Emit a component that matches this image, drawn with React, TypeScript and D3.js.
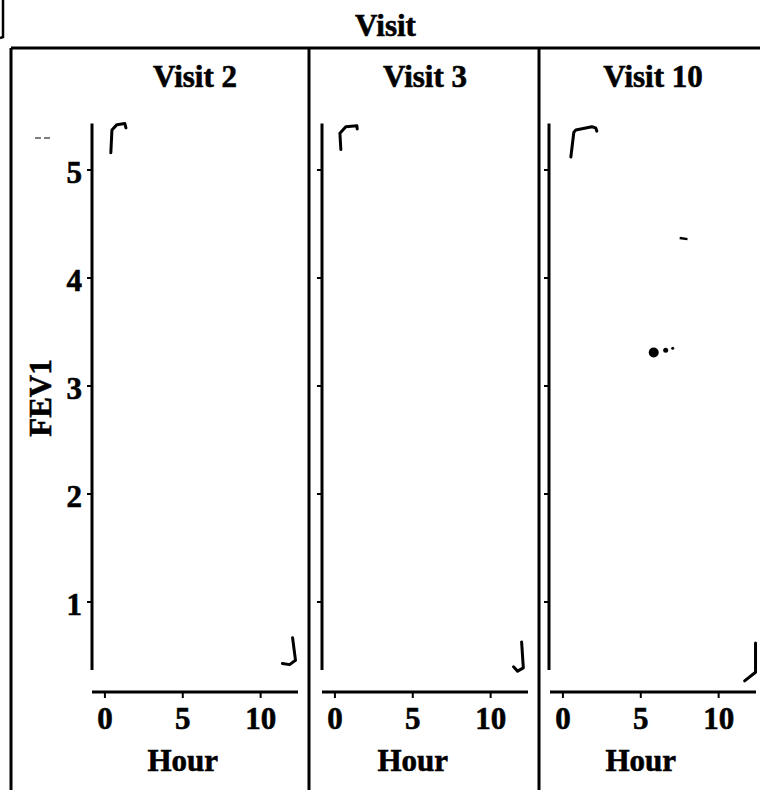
import React from 'react';
import * as d3 from 'd3';

const width = 760;
const height = 790;

// data
const visits = ['Visit 2', 'Visit 3', 'Visit 10'];
const hourTicks = [0, 5, 10];
const fevTicks = [1, 2, 3, 4, 5];
const hourExtent = [-0.83, 12.4];
const fevExtent = [0.37, 5.43];

// corner marks per visit, [hour, FEV1]
const topMarks = [
  [[0.38, 5.16], [0.45, 5.37], [0.77, 5.42], [1.28, 5.43], [1.35, 5.39]],
  [[0.38, 5.19], [0.32, 5.34], [0.7, 5.4], [1.41, 5.41], [1.43, 5.38]],
  [[0.51, 5.12], [0.7, 5.35], [0.83, 5.37], [1.86, 5.4], [2.1, 5.39], [2.18, 5.36]],
];
const bottomMarks = [
  [[12.05, 0.67], [12.24, 0.46], [11.86, 0.42], [11.4, 0.43]],
  [[11.99, 0.63], [12.1, 0.39], [11.73, 0.36], [11.47, 0.4]],
  [[12.37, 0.62], [12.37, 0.35], [11.67, 0.27]],
];

// the lone point in Visit 10 and its smear
const v10Hours = [5.83, 6.6, 7.05];
const v10Fev = [3.31, 3.33, 3.35];
const v10Size = [5, 2.5, 1.5];
const v10Dash = [[7.5, 4.37], [8.0, 4.36]];

// layout
const frameX = [11, 309, 539];
const frameTop = 48;
const plotLeft = [92, 322, 550];
const plotW = 206;
const xAxisY = 692;
const font = "'Liberation Serif', 'Times New Roman', serif";
const fs = 31;
const sw = 3;

const x = d3.scaleLinear().domain(hourExtent).range([0, plotW]);
const y = d3.scaleLinear().domain([1, 5]).range([602, 170]);

const markLine = d3.line<number[]>()
  .x(d => x(d[0]))
  .y(d => y(d[1]))
  .curve(d3.curveLinear);

// bold scan text: a thin outline makes it read heavier
const textStyle = {
  fontFamily: font,
  fontWeight: 'bold' as const,
  fontSize: fs,
  stroke: 'black',
  strokeWidth: 0.6,
};

const Panel = ({ i }: { i: number }) => {
  const left = plotLeft[i];
  const axisX = i === 2 ? left - 1 : left;
  return (
    <g>
      <text x={left + plotW / 2} y={87} textAnchor="middle" style={textStyle}>
        {visits[i]}
      </text>
      {/* y axis */}
      <line x1={axisX} x2={axisX} y1={y(fevExtent[1])} y2={y(fevExtent[0])} stroke="black" strokeWidth={sw} />
      {fevTicks.map(t => (
        <g key={t}>
          <line x1={axisX - 5} x2={axisX} y1={y(t)} y2={y(t)} stroke="black" strokeWidth={2} />
          {i === 0 && (
            <text x={axisX - 10} y={y(t) + 13} textAnchor="end" style={textStyle}>
              {t}
            </text>
          )}
        </g>
      ))}
      {/* x axis */}
      <g transform={`translate(${left},0)`}>
        <line x1={0} x2={plotW} y1={xAxisY} y2={xAxisY} stroke="black" strokeWidth={sw} />
        {hourTicks.map(t => (
          <g key={t}>
            <line x1={x(t)} x2={x(t)} y1={xAxisY} y2={xAxisY + 6} stroke="black" strokeWidth={2} />
            <text x={x(t)} y={729} textAnchor="middle" style={textStyle}>
              {t}
            </text>
          </g>
        ))}
        <text x={x(5)} y={771} textAnchor="middle" style={textStyle}>
          Hour
        </text>
        <path d={markLine(topMarks[i]) || ''} fill="none" stroke="black" strokeWidth={3} strokeLinejoin="round" strokeLinecap="round" />
        <path d={markLine(bottomMarks[i]) || ''} fill="none" stroke="black" strokeWidth={3} strokeLinejoin="round" strokeLinecap="round" />
        {i === 2 && (
          <g>
            {v10Hours.map((h, k) => (
              <circle key={k} cx={x(h)} cy={y(v10Fev[k])} r={v10Size[k]} fill="black" />
            ))}
            <path d={markLine(v10Dash) || ''} stroke="black" strokeWidth={2.5} />
          </g>
        )}
      </g>
    </g>
  );
};

export default function App() {
  return (
    <svg
      width={width}
      height={height}
      style={{ position: 'absolute', left: 0, top: 0, background: 'white' }}
    >
      <rect width={width} height={height} fill="white" />
      {/* stray bracket at the very top left of the scan */}
      <path d="M0,38 L3,37 L3,0" fill="none" stroke="black" strokeWidth={2.5} />
      <text x={(frameX[0] + width) / 2} y={36} textAnchor="middle" style={textStyle}>
        Visit
      </text>
      {/* frame */}
      <line x1={frameX[0]} x2={width} y1={frameTop} y2={frameTop} stroke="black" strokeWidth={sw} />
      {frameX.map(fx => (
        <line key={fx} x1={fx} x2={fx} y1={frameTop} y2={height} stroke="black" strokeWidth={sw} />
      ))}
      <text transform="translate(51,398) rotate(-90)" textAnchor="middle" style={textStyle}>
        FEV1
      </text>
      <path d="M35,138 L52,138" stroke="black" strokeWidth={1.2} strokeDasharray="6,3" />
      {visits.map((v, i) => (
        <Panel key={v} i={i} />
      ))}
    </svg>
  );
}
